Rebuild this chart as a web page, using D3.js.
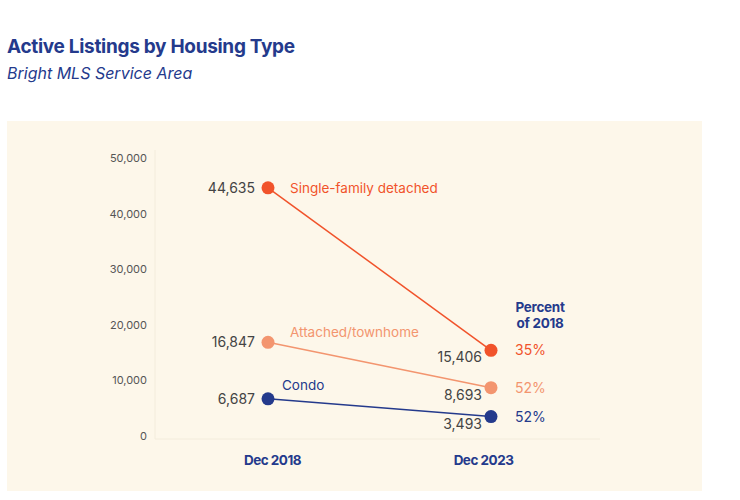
<!DOCTYPE html>
<html>
<head>
<meta charset="utf-8">
<script src="https://cdn.jsdelivr.net/npm/d3@7"></script>
<style>
  body { margin: 0; background: #fff; }
  svg { display: block; font-family: Inter, "Noto Sans", sans-serif; }
</style>
</head>
<body>
<div id="chart"></div>
<script>
// data
const periods = ["Dec 2018", "Dec 2023"];
const seriesNames = ["Single-family detached", "Attached/townhome", "Condo"];
const values2018 = [44635, 16847, 6687];
const values2023 = [15406, 8693, 3493];
const percentLabels = ["35%", "52%", "52%"];
const yTicks = [0, 10000, 20000, 30000, 40000, 50000];

const colors = ["#f1532b", "#f3956f", "#243a8c"];
const navy = "#243a8c";

const width = 740, height = 500;
const svg = d3.select("#chart").append("svg")
    .attr("width", width)
    .attr("height", height);

// title
svg.append("text")
    .attr("x", 7).attr("y", 53)
    .attr("fill", navy)
    .style("font-size", "19px").style("font-weight", 700)
    .style("letter-spacing", "-0.3px")
    .text("Active Listings by Housing Type");
svg.append("text")
    .attr("x", 7).attr("y", 79)
    .attr("fill", navy)
    .style("font-size", "16px").style("font-style", "italic")
    .text("Bright MLS Service Area");

// panel
svg.append("rect")
    .attr("x", 7).attr("y", 121)
    .attr("width", 695).attr("height", 370)
    .attr("fill", "#fdf7ea");

const x = d3.scalePoint().domain(periods).range([268, 491]);
const y = d3.scaleLinear().domain([0, 50000]).range([436, 158]);

// faint axis lines
svg.append("line")
    .attr("x1", 155).attr("x2", 155)
    .attr("y1", 150).attr("y2", y(0) + 3)
    .attr("stroke", "#f3ecdc").attr("stroke-width", 1);
svg.append("line")
    .attr("x1", 155).attr("x2", 600)
    .attr("y1", y(0) + 3).attr("y2", y(0) + 3)
    .attr("stroke", "#f3ecdc").attr("stroke-width", 1);

// y axis labels
const yAxis = d3.axisLeft(y).tickValues(yTicks).tickSize(0).tickPadding(0)
    .tickFormat(d3.format(","));
const yg = svg.append("g").attr("transform", "translate(147,0)").call(yAxis);
yg.select(".domain").remove();
yg.selectAll("text")
    .attr("fill", "#555")
    .style("font-size", "11px")
    .style("font-family", "Inter, 'Noto Sans', sans-serif");

// x axis labels
const xAxis = d3.axisBottom(x).tickSize(0).tickPadding(0);
const xg = svg.append("g").attr("transform", "translate(4,455)").call(xAxis);
xg.select(".domain").remove();
xg.selectAll("text")
    .attr("fill", navy)
    .style("font-size", "13.5px").style("font-weight", 700)
    .style("letter-spacing", "-0.5px")
    .style("font-family", "Inter, 'Noto Sans', sans-serif");
xg.selectAll("text").filter(d => d === "Dec 2023").attr("dx", -12);

const series = seriesNames.map((name, i) => ({
    name: name, color: colors[i],
    v0: values2018[i], v1: values2023[i], pct: percentLabels[i]
}));

const line = d3.line().x(d => x(d[0])).y(d => y(d[1]));

const g = svg.append("g");
g.selectAll("path.series")
    .data(series)
    .join("path")
    .attr("class", "series")
    .attr("d", d => line([[periods[0], d.v0], [periods[1], d.v1]]))
    .attr("fill", "none")
    .attr("stroke", d => d.color)
    .attr("stroke-width", 1.5);

g.selectAll("circle.start")
    .data(series)
    .join("circle")
    .attr("class", "start")
    .attr("cx", x(periods[0])).attr("cy", d => y(d.v0))
    .attr("r", 6.5).attr("fill", d => d.color);
g.selectAll("circle.end")
    .data(series)
    .join("circle")
    .attr("class", "end")
    .attr("cx", x(periods[1])).attr("cy", d => y(d.v1))
    .attr("r", 6.5).attr("fill", d => d.color);

const fmt = d3.format(",");

// 2018 values, to the left of the dots
g.selectAll("text.v0")
    .data(series)
    .join("text")
    .attr("class", "v0")
    .attr("x", x(periods[0]) - 13)
    .attr("y", d => y(d.v0) + 5)
    .attr("text-anchor", "end")
    .attr("fill", "#444")
    .style("font-size", "14px")
    .text(d => fmt(d.v0));

// series names
const nameDx = [22, 22, 14], nameDy = [0, -10, -14];
g.selectAll("text.name")
    .data(series)
    .join("text")
    .attr("class", "name")
    .attr("x", (d, i) => x(periods[0]) + nameDx[i])
    .attr("y", (d, i) => y(d.v0) + 5 + nameDy[i])
    .attr("fill", d => d.color)
    .style("font-size", "13.5px")
    .text(d => d.name);

// 2023 values, below-left of the dots
g.selectAll("text.v1")
    .data(series)
    .join("text")
    .attr("class", "v1")
    .attr("x", x(periods[1]) - 9)
    .attr("y", d => y(d.v1) + 12)
    .attr("text-anchor", "end")
    .attr("fill", "#444")
    .style("font-size", "14px")
    .text(d => fmt(d.v1));

// percent of 2018
g.selectAll("text.pct")
    .data(series)
    .join("text")
    .attr("class", "pct")
    .attr("x", x(periods[1]) + 24)
    .attr("y", d => y(d.v1) + 5)
    .attr("fill", d => d.color)
    .style("font-size", "14px")
    .text(d => d.pct);

const head = svg.append("text")
    .attr("x", 540).attr("y", 312)
    .attr("text-anchor", "middle")
    .attr("fill", navy)
    .style("font-size", "13.5px").style("font-weight", 700)
    .style("letter-spacing", "-0.3px");
head.append("tspan").attr("x", 540).text("Percent");
head.append("tspan").attr("x", 540).attr("dy", 16).text("of 2018");
</script>
</body>
</html>
